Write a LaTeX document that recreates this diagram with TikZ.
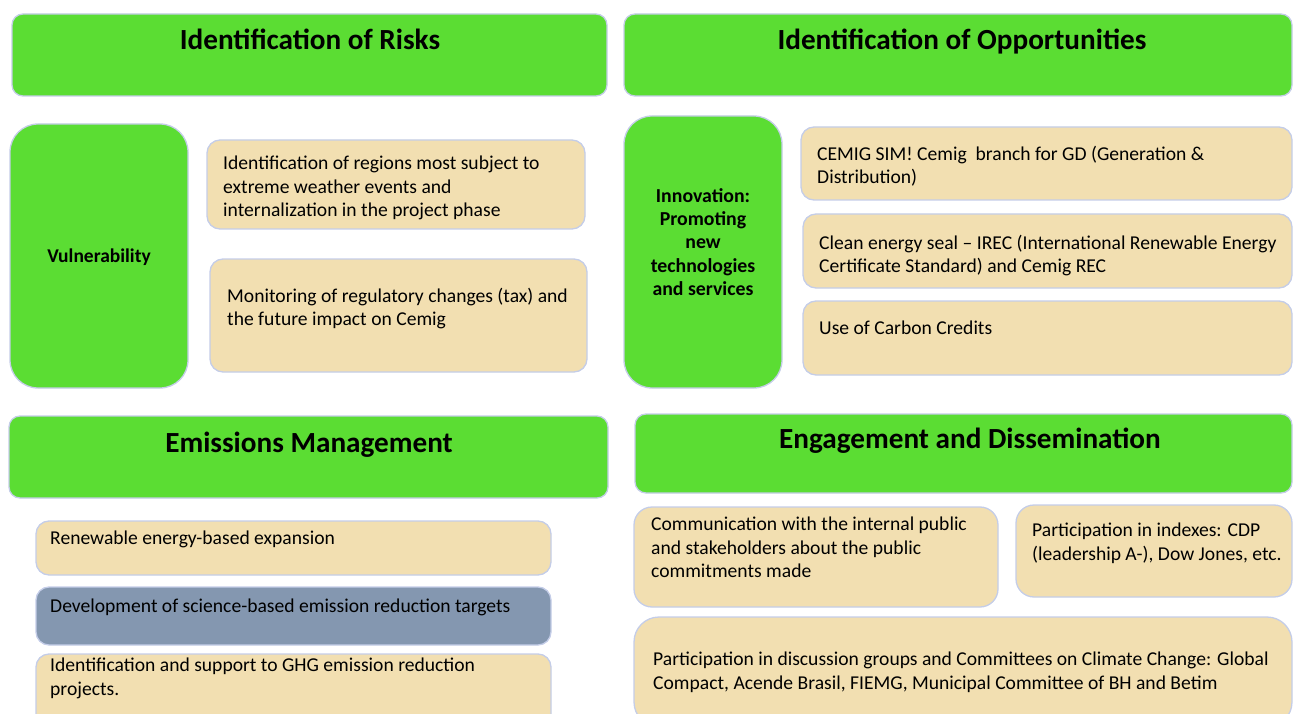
\documentclass[tikz,border=0pt]{standalone}
\usepackage{fontspec}
\setmainfont{Carlito}
\definecolor{boxgreen}{RGB}{91,221,51}
\definecolor{boxtan}{RGB}{242,223,177}
\definecolor{boxslate}{RGB}{132,151,176}
\definecolor{boxedge}{RGB}{196,205,232}

\begin{document}
\begin{tikzpicture}[x=1pt, y=-1pt,
  box/.style={draw=boxedge, line width=1.3pt, inner sep=0pt, outer sep=0pt, anchor=north west},
  head/.style={box, fill=boxgreen, rounded corners=11pt},
  pillar/.style={box, fill=boxgreen, rounded corners=28pt},
  item/.style={box, fill=boxtan, rounded corners=13pt},
  headtext/.style={anchor=base, inner sep=0pt, font=\fontsize{29.2}{33}\selectfont\bfseries},
  itemtext/.style={anchor=north west, align=left, inner sep=0pt, font=\fontsize{19.6}{23.3}\selectfont}]
\useasboundingbox (0,0) rectangle (1293,714);
\clip (0,0) rectangle (1293,714);

% risks
\node[head, minimum width=595, minimum height=82] (risks) at (12,14) {};
\node[headtext] (risksT) at (310,50) {Identification of Risks};
\node[pillar, minimum width=178, minimum height=264] (vuln) at (10,124) {};
\node[inner sep=0pt, font=\fontsize{19.5}{23}\selectfont\bfseries] (vulnT) at (99,257) {Vulnerability};
\node[item, minimum width=378, minimum height=89] (riskA) at (207,140) {};
\node[itemtext] (riskAT) at (223,156) {Identification of regions most subject to\\extreme weather events and\\internalization in the project phase};
\node[item, minimum width=377, minimum height=113] (riskB) at (210,259) {};
\node[itemtext] (riskBT) at (227,288) {Monitoring of regulatory changes (tax) and\\the future impact on Cemig};

% opportunities
\node[head, minimum width=668, minimum height=82] (opps) at (624,14) {};
\node[headtext] (oppsT) at (962,50) {Identification of Opportunities};
\node[pillar, minimum width=158, minimum height=272] (innov) at (624,116) {};
\node[inner sep=0pt, align=center, font=\fontsize{19.8}{23.3}\selectfont\bfseries] (innovT) at (703,242)
  {Innovation:\\Promoting\\new\\technologies\\and services};
\node[item, minimum width=491, minimum height=73] (oppA) at (801,127) {};
\node[itemtext] (oppAT) at (817,146) {CEMIG SIM! Cemig~ branch for GD (Generation \&\\Distribution)};
\node[item, minimum width=489, minimum height=74] (oppB) at (803,214) {};
\node[itemtext] (oppBT) at (819,235) {Clean energy seal -- IREC (International Renewable Energy\\Certificate Standard) and Cemig REC};
\node[item, minimum width=489, minimum height=74] (oppC) at (803,301) {};
\node[itemtext] (oppCT) at (819,321) {Use of Carbon Credits};

% emissions
\node[head, minimum width=599, minimum height=82] (emis) at (9,416) {};
\node[headtext] (emisT) at (309,452) {Emissions Management};
\node[item, minimum width=515, minimum height=54] (emA) at (36,521) {};
\node[itemtext] (emAT) at (50,531) {Renewable energy-based expansion};
\node[item, fill=boxslate, minimum width=515, minimum height=58] (emB) at (36,587) {};
\node[itemtext] (emBT) at (50,599) {Development of science-based emission reduction targets};
\node[item, minimum width=515, minimum height=80] (emC) at (36,654) {};
\node[itemtext] (emCT) at (50,658) {Identification and support to GHG emission reduction\\projects.};

% engagement
\node[head, minimum width=657, minimum height=79] (engage) at (635,414) {};
\node[headtext] (engageT) at (970,448) {Engagement and Dissemination};
\node[item, rounded corners=18pt, minimum width=364, minimum height=100] (engA) at (634,507) {};
\node[itemtext] (engAT) at (651,517) {Communication with the internal public\\and stakeholders about the public\\commitments made};
\node[item, rounded corners=18pt, minimum width=276, minimum height=92] (engB) at (1016,505) {};
\node[itemtext] (engBT) at (1032,523) {Participation in indexes: CDP\\(leadership A-), Dow Jones, etc.};
\node[item, rounded corners=25pt, minimum width=658, minimum height=110] (engC) at (634,617) {};
\node[itemtext] (engCT) at (653,652) {Participation in discussion groups and Committees on Climate Change: Global\\Compact, Acende Brasil, FIEMG, Municipal Committee of BH and Betim};
\end{tikzpicture}
\end{document}
